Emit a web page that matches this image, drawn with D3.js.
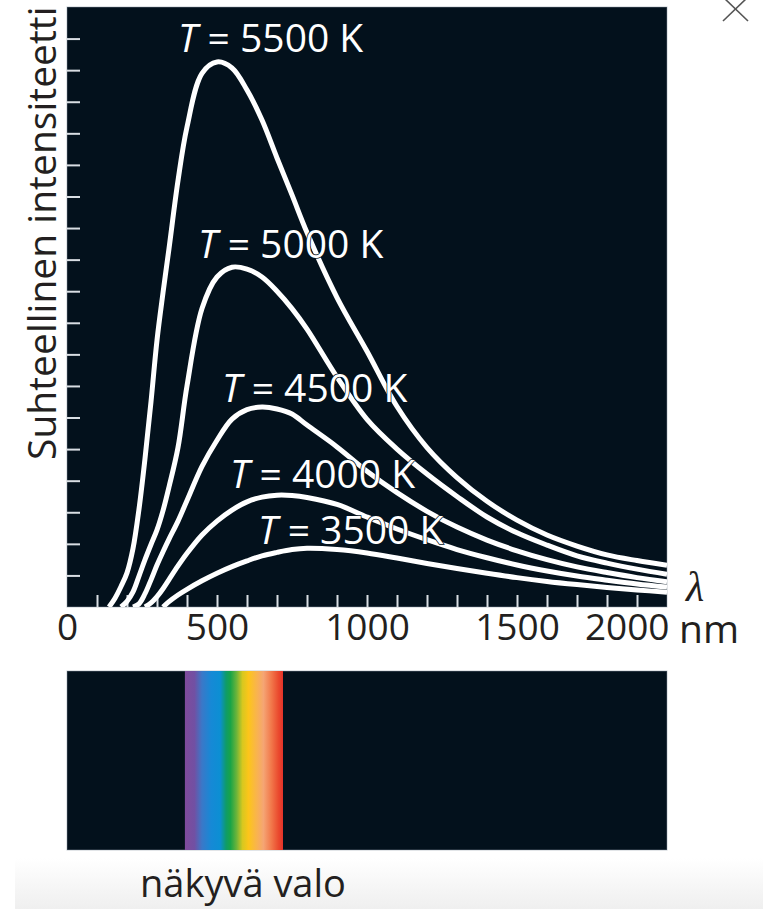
<!DOCTYPE html>
<html>
<head>
<meta charset="utf-8">
<script src="https://cdn.jsdelivr.net/npm/d3@7"></script>
<style>
  html, body { margin: 0; padding: 0; background: #fff; }
  svg { display: block; font-family: "Open Sans", "Noto Sans", sans-serif; }
</style>
</head>
<body>
<svg id="chart" width="763" height="909"></svg>
<script>
// wavelength grid (nm) shared by all curves
const wavelengths = [140, 160, 180, 200, 220, 240, 260, 280, 300, 320, 340, 370, 400, 450, 500, 550, 600, 650, 700, 750, 800, 900, 1000, 1100, 1200, 1300, 1400, 1500, 1600, 1700, 1800, 1900, 2000];

const temperatures = [5500, 5000, 4500, 4000, 3500];

// relative intensity (null = curve not started yet)
const intensity5500 = [0, 0.28, 0.65, 1.08, 1.85, 3.1, 4.7, 6.5, 8.45, 9.95, 11.35, 13.5, 15.2, 16.9, 17.26, 17.07, 16.37, 15.42, 14.22, 13.05, 11.86, 9.8, 8.1, 6.35, 5.05, 4.1, 3.35, 2.75, 2.28, 1.93, 1.65, 1.47, 1.32];
const intensity5000 = [null, null, 0, 0.18, 0.48, 0.98, 1.5, 1.98, 2.44, 3.05, 3.8, 5.05, 7.0, 9.45, 10.45, 10.76, 10.7, 10.45, 10.0, 9.45, 8.8, 7.28, 5.94, 5.0, 4.21, 3.5, 2.85, 2.35, 1.96, 1.62, 1.39, 1.2, 1.04];
const intensity4500 = [null, null, null, null, 0, 0.1, 0.42, 0.86, 1.33, 1.75, 2.15, 2.72, 3.37, 4.45, 5.28, 5.95, 6.25, 6.33, 6.27, 6.11, 5.76, 5.07, 4.3, 3.62, 3.03, 2.53, 2.12, 1.78, 1.5, 1.27, 1.09, 0.93, 0.8];
const intensity4000 = [null, null, null, null, null, null, 0, 0.13, 0.33, 0.58, 0.87, 1.3, 1.7, 2.28, 2.72, 3.07, 3.33, 3.48, 3.54, 3.53, 3.47, 3.25, 2.85, 2.47, 2.13, 1.82, 1.56, 1.33, 1.14, 0.98, 0.85, 0.73, 0.63];
const intensity3500 = [null, null, null, null, null, null, null, null, null, 0, 0.17, 0.38, 0.56, 0.83, 1.07, 1.28, 1.46, 1.62, 1.73, 1.82, 1.86, 1.82, 1.71, 1.55, 1.38, 1.22, 1.07, 0.93, 0.81, 0.71, 0.62, 0.54, 0.47];

const intensities = [intensity5500, intensity5000, intensity4500, intensity4000, intensity3500];

const xMinorTicks = d3.range(100, 2000, 100);
const xTickLabels = [0, 500, 1000, 1500, 2000];
const yTicks = d3.range(1, 19);

// visible band colours along the wavelength axis
const spectrumNm = [393, 425, 450, 480, 510, 530, 545, 565, 585, 605, 630, 655, 680, 705, 720];
const spectrumColors = ["#7f4b9c", "#7150a3", "#3a78c8", "#1689d6", "#0c8fd3", "#0f9b6a", "#19a447", "#6bb43a", "#d7c81f", "#fcc51a", "#f9b54a", "#f5a574", "#f27a4c", "#ea4a2e", "#e5322a"];

// where the "T = ... K" labels start, in data units
const labelAnchors = [[370, 17.57], [437, 11.05], [517, 6.49], [543, 3.77], [637, 2.0]];

const W = 763, H = 909;
const panel = { left: 67, right: 667, top: 7, bottom: 607 };
const dark = "#03111c";
const ink = "#231f20";

const x = d3.scaleLinear().domain([0, 2000]).range([panel.left, panel.right]);
const y = d3.scaleLinear().domain([0, 19]).range([panel.bottom, panel.top]);

const svg = d3.select("#chart");
const defs = svg.append("defs");

// faint grey at the very bottom
const fade = defs.append("linearGradient").attr("id", "bottomFade")
  .attr("x1", 0).attr("x2", 0).attr("y1", 0).attr("y2", 1);
fade.append("stop").attr("offset", "0%").attr("stop-color", "#ffffff");
fade.append("stop").attr("offset", "100%").attr("stop-color", "#efefef");
svg.append("rect").attr("x", 15).attr("y", 858).attr("width", W - 15).attr("height", H - 858)
  .attr("fill", "url(#bottomFade)");

defs.append("clipPath").attr("id", "plotClip")
  .append("rect").attr("x", panel.left).attr("y", panel.top)
  .attr("width", panel.right - panel.left).attr("height", panel.bottom - panel.top);

// plot panel
svg.append("rect")
  .attr("x", panel.left).attr("y", panel.top)
  .attr("width", panel.right - panel.left).attr("height", panel.bottom - panel.top)
  .attr("fill", dark).attr("stroke", "#8c99a6").attr("stroke-opacity", 0.5);

// minor ticks along the bottom, pointing up
let xTickG = svg.append("g").attr("transform", `translate(0,${panel.bottom})`)
  .call(d3.axisBottom(x).tickValues(xMinorTicks).tickSizeInner(-12).tickSizeOuter(0).tickFormat(""));
xTickG.select(".domain").remove();
xTickG.selectAll("line").attr("stroke", "#d9dee3").attr("stroke-width", 2);

// tick labels
let xLabelG = svg.append("g").attr("transform", `translate(0,${panel.bottom})`)
  .call(d3.axisBottom(x).tickValues(xTickLabels).tickSize(0).tickPadding(7).tickFormat(d3.format("d")));
xLabelG.select(".domain").remove();
xLabelG.attr("font-family", null).attr("font-size", null);
xLabelG.selectAll("text").attr("fill", ink).style("font-size", "37px");
xLabelG.selectAll(".tick").filter(d => d === 2000).select("text")
  .attr("text-anchor", "end").attr("x", 2);

// y ticks on the left edge, pointing right
let yTickG = svg.append("g").attr("transform", `translate(${panel.left},0)`)
  .call(d3.axisLeft(y).tickValues(yTicks).tickSizeInner(-13).tickSizeOuter(0).tickFormat(""));
yTickG.select(".domain").remove();
yTickG.selectAll("line").attr("stroke", "#d9dee3").attr("stroke-width", 2);

// curves
let line = d3.line()
  .defined(d => d[1] !== null)
  .x(d => x(d[0]))
  .y(d => y(d[1]))
  .curve(d3.curveCatmullRom.alpha(0.5));

let curves = temperatures.map((t, i) => ({
  t: t,
  points: wavelengths.map((w, j) => [w, intensities[i][j]])
}));

svg.append("g").attr("clip-path", "url(#plotClip)")
  .selectAll("path")
  .data(curves)
  .enter()
  .append("path")
  .attr("d", d => line(d.points))
  .attr("fill", "none")
  .attr("stroke", "#ffffff")
  .attr("stroke-width", 5)
  .attr("stroke-linejoin", "round");

// T = ... K labels
let labels = svg.append("g")
  .selectAll("text")
  .data(curves)
  .enter()
  .append("text")
  .attr("x", (d, i) => x(labelAnchors[i][0]))
  .attr("y", (d, i) => y(labelAnchors[i][1]))
  .attr("fill", "#ffffff")
  .attr("stroke", dark)
  .attr("stroke-width", 1.5)
  .attr("paint-order", "stroke")
  .style("font-size", "39px")
  .style("white-space", "pre");
labels.append("tspan").attr("font-style", "italic").text("T");
labels.append("tspan").text(d => " = " + d.t + " K");

// axis titles
svg.append("text")
  .attr("transform", "translate(56,460) rotate(-90)")
  .attr("fill", ink)
  .style("font-size", "39px")
  .text("Suhteellinen intensiteetti");

svg.append("text")
  .attr("x", 686).attr("y", 601)
  .attr("fill", ink)
  .style("font-family", "'Liberation Serif', 'DejaVu Serif', serif")
  .style("font-style", "italic")
  .style("font-size", "42px")
  .text("λ");

svg.append("text")
  .attr("x", 679).attr("y", panel.bottom + 8)
  .attr("dy", "0.71em")
  .attr("fill", ink)
  .style("font-size", "39px")
  .text("nm");

// visible light strip
const band = { top: 671, bottom: 850 };
const grad = defs.append("linearGradient").attr("id", "spectrum")
  .attr("gradientUnits", "userSpaceOnUse")
  .attr("x1", x(spectrumNm[0])).attr("x2", x(spectrumNm[spectrumNm.length - 1]))
  .attr("y1", 0).attr("y2", 0);
let nmToOffset = d3.scaleLinear().domain(d3.extent(spectrumNm)).range([0, 100]);
grad.selectAll("stop")
  .data(spectrumNm)
  .enter()
  .append("stop")
  .attr("offset", d => nmToOffset(d) + "%")
  .attr("stop-color", (d, i) => spectrumColors[i]);

svg.append("rect")
  .attr("x", panel.left).attr("y", band.top)
  .attr("width", panel.right - panel.left).attr("height", band.bottom - band.top)
  .attr("fill", dark).attr("stroke", "#8c99a6").attr("stroke-opacity", 0.5);
svg.append("rect")
  .attr("x", x(spectrumNm[0])).attr("y", band.top)
  .attr("width", x(spectrumNm[spectrumNm.length - 1]) - x(spectrumNm[0]))
  .attr("height", band.bottom - band.top)
  .attr("fill", "url(#spectrum)");

svg.append("text")
  .attr("x", 140).attr("y", 897)
  .attr("fill", ink)
  .style("font-size", "38px")
  .text("näkyvä valo");

// close mark, top right
let closeG = svg.append("g").attr("stroke", "#555").attr("stroke-width", 1.6);
closeG.append("line").attr("x1", 723).attr("y1", -3).attr("x2", 748).attr("y2", 21);
closeG.append("line").attr("x1", 723).attr("y1", 21).attr("x2", 748).attr("y2", -3);
</script>
</body>
</html>
